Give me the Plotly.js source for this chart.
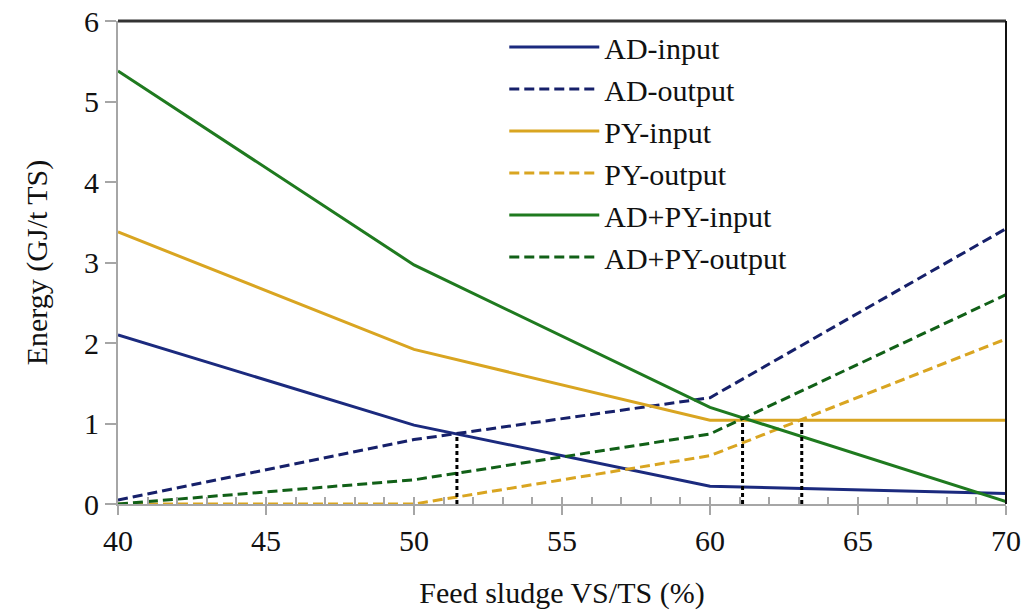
<!DOCTYPE html>
<html>
<head>
<meta charset="utf-8">
<script src="https://cdn.plot.ly/plotly-3.0.1.min.js"></script>
</head>
<body style="margin:0">
<div id="chart" style="width:1025px;height:610px"></div>
<script>
// Data
var vsts = [40, 50, 60, 70];
var adInput = [2.1, 0.98, 0.22, 0.13];
var adOutput = [0.05, 0.8, 1.32, 3.42];
var pyInput = [3.38, 1.92, 1.04, 1.04];
var pyOutput = [0, 0, 0.6, 2.05];
var adpyInput = [5.38, 2.97, 1.2, 0.03];
var adpyOutput = [0, 0.3, 0.87, 2.6];
var seriesNames = ['AD-input', 'AD-output', 'PY-input', 'PY-output', 'AD+PY-input', 'AD+PY-output'];
// break-even markers (x position, energy at crossing)
var crossX = [51.45, 61.1, 63.1];
var crossY = [0.87, 1.05, 1.04];

(function () {
  var FONT = 'Liberation Serif';
  var SZ = 30;
  var cols = ['#1b2a7e', '#16206a', '#d9a521', '#d9a521', '#1f7a1f', '#116017'];
  var dashes = ['solid', '10px,5px', 'solid', '10px,5px', 'solid', '10px,5px'];
  var ys = [adInput, adOutput, pyInput, pyOutput, adpyInput, adpyOutput];
  var data = [];
  for (var k = 0; k < ys.length; k++) {
    data.push({x: vsts, y: ys[k], name: seriesNames[k], type: 'scatter', mode: 'lines',
      line: {color: cols[k], width: 3, dash: dashes[k]}});
  }
  for (var m = 0; m < crossX.length; m++) {
    data.push({x: [crossX[m], crossX[m]], y: [0, crossY[m]], type: 'scatter', mode: 'lines',
      showlegend: false, line: {color: '#000', width: 3, dash: '4px,3px'}});
  }
  data.push({x: [40, 70], y: [0, 0], xaxis: 'x2', type: 'scatter', mode: 'lines', showlegend: false,
    line: {color: 'rgba(0,0,0,0)', width: 1}});

  var lay = {
    width: 1025, height: 610,
    margin: {l: 118, r: 19, t: 21, b: 106},
    font: {family: FONT, size: SZ, color: '#111'},
    legend: {x: 0.435, y: 1.0, xanchor: 'left', yanchor: 'top', bgcolor: 'rgba(0,0,0,0)',
      font: {family: FONT, size: SZ, color: '#111'}, itemwidth: 90},
    xaxis: {range: [40, 70], dtick: 5, showgrid: false, zeroline: false,
      showline: true, linecolor: '#a6a6a6', linewidth: 2,
      ticks: 'outside', ticklen: 9, tickwidth: 2, tickcolor: '#a6a6a6',
      tickfont: {family: FONT, size: SZ, color: '#111'},
      title: {text: 'Feed sludge VS/TS (%)', font: {family: FONT, size: SZ, color: '#111'}}},
    xaxis2: {overlaying: 'x', anchor: 'y', range: [40, 70], dtick: 1, showgrid: false,
      showticklabels: false, ticks: 'inside', ticklen: 7, tickwidth: 2, tickcolor: '#a6a6a6'},
    yaxis: {range: [0, 6], dtick: 1, showgrid: false, zeroline: false,
      showline: true, linecolor: '#a6a6a6', linewidth: 2,
      ticks: 'outside', ticklen: 11, tickwidth: 2, tickcolor: '#a6a6a6',
      tickfont: {family: FONT, size: SZ, color: '#111'},
      title: {text: 'Energy (GJ/t TS)', font: {family: FONT, size: SZ, color: '#111'}}},
    shapes: [
      {type: 'line', xref: 'paper', yref: 'paper', x0: 0, x1: 1, y0: 1, y1: 1, line: {color: '#333', width: 3}},
      {type: 'line', xref: 'paper', yref: 'paper', x0: 1, x1: 1, y0: 0, y1: 1, line: {color: '#111', width: 2}}
    ]
  };
  Plotly.newPlot('chart', data, lay, {displayModeBar: false});
})();
</script>
</body>
</html>
